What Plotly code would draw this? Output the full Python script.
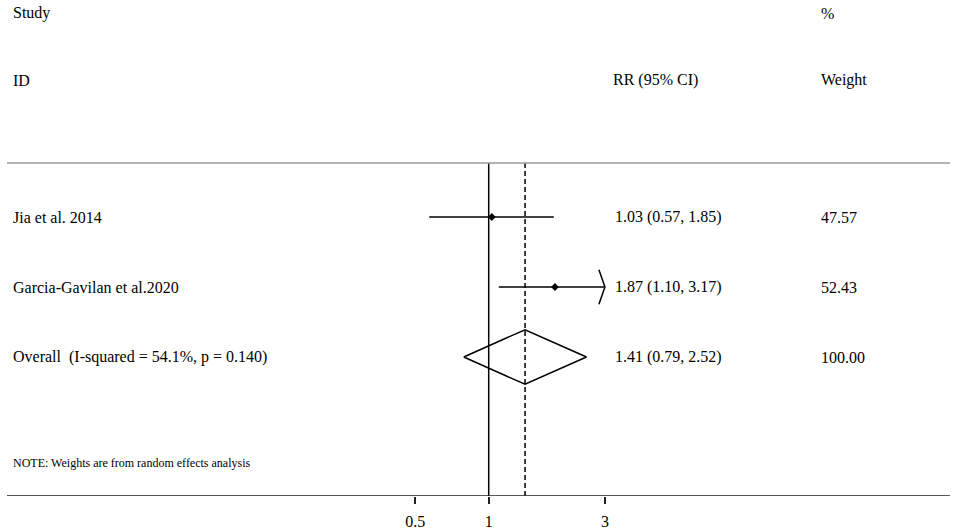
import plotly.graph_objects as go

# ---- data ----
studies = ["Jia et al. 2014", "Garcia-Gavilan et al.2020"]
rr = [1.03, 1.87]
ci_low = [0.57, 1.10]
ci_high = [1.85, 3.17]
weights = [47.57, 52.43]
overall_label = "Overall  (I-squared = 54.1%, p = 0.140)"
overall_rr = 1.41
overall_low = 0.79
overall_high = 2.52
overall_weight = 100.00
tick_vals = [0.5, 1, 3]
tick_text = ["0.5", "1", "3"]
axis_cap = 3  # CIs beyond this are drawn with an arrow

FONT = "Liberation Serif, Times New Roman, serif"
W, H = 957, 531
ML, MR = 0, 0
PLOT_BOTTOM = 496
ROW0_PX = 217
ROW_STEP = 70

def yrow(px):
    return (px - ROW0_PX) / ROW_STEP

def xpaper(px):
    return (px - ML) / (W - ML - MR)

px_per_log10 = 243.6
x_one_px = 488.7
xmin = (ML - x_one_px) / px_per_log10
xmax = (W - MR - x_one_px) / px_per_log10

fig = go.Figure()

rows = list(range(len(studies)))
overall_row = len(studies)

# CI lines and point estimates
for i in rows:
    hi = min(ci_high[i], axis_cap)
    fig.add_trace(go.Scatter(x=[ci_low[i], hi], y=[i, i], mode="lines",
                             line=dict(color="black", width=1.5),
                             hoverinfo="skip", showlegend=False))
    if ci_high[i] > axis_cap:
        f = 10 ** (-6 / px_per_log10)
        fig.add_trace(go.Scatter(x=[axis_cap * f, axis_cap, axis_cap * f],
                                 y=[i - 0.245, i, i + 0.245], mode="lines",
                                 line=dict(color="black", width=1.5),
                                 hoverinfo="skip", showlegend=False))
fig.add_trace(go.Scatter(x=rr, y=rows, mode="markers",
                         marker=dict(symbol="diamond", size=6, color="black"),
                         hoverinfo="skip", showlegend=False))

# overall diamond
dh = 0.39
fig.add_trace(go.Scatter(x=[overall_low, overall_rr, overall_high, overall_rr, overall_low],
                         y=[overall_row, overall_row - dh, overall_row, overall_row + dh, overall_row],
                         mode="lines", line=dict(color="black", width=1.5),
                         hoverinfo="skip", showlegend=False))

y_top_line = yrow(163)
y_bottom = yrow(PLOT_BOTTOM)

# null line and overall dashed line
fig.add_trace(go.Scatter(x=[1, 1], y=[y_top_line, y_bottom], mode="lines",
                         line=dict(color="black", width=1.5),
                         hoverinfo="skip", showlegend=False))
fig.add_trace(go.Scatter(x=[overall_rr, overall_rr], y=[y_top_line, y_bottom], mode="lines",
                         line=dict(color="black", width=1.5, dash="5px,3px"),
                         hoverinfo="skip", showlegend=False))

# top separator line
fig.add_shape(type="line", xref="paper", yref="y", x0=xpaper(7), x1=xpaper(950),
              y0=y_top_line, y1=y_top_line, line=dict(color="#9a9a9a", width=1.5))

ann = []
def text(x_px, y, s, size=16):
    ann.append(dict(x=xpaper(x_px), y=y, xref="paper", yref="y", text=s,
                    showarrow=False, xanchor="left", yanchor="middle",
                    font=dict(family=FONT, size=size, color="black")))

text(11, yrow(13), "Study")
text(11, yrow(80), "ID")
text(611, yrow(80), "RR (95% CI)")
text(819, yrow(13), "%")
text(819, yrow(80), "Weight")
for i in rows:
    text(11, i, studies[i])
    text(613, i, f"{rr[i]:.2f} ({ci_low[i]:.2f}, {ci_high[i]:.2f})")
    text(819, i, f"{weights[i]:.2f}")
text(11, overall_row, overall_label)
text(613, overall_row, f"{overall_rr:.2f} ({overall_low:.2f}, {overall_high:.2f})")
text(819, overall_row, f"{overall_weight:.2f}")
text(11, yrow(463), "NOTE: Weights are from random effects analysis", size=12)

fig.update_layout(
    width=W, height=H,
    margin=dict(l=ML, r=MR, t=0, b=H - PLOT_BOTTOM),
    paper_bgcolor="white", plot_bgcolor="white",
    annotations=ann,
    xaxis=dict(type="log", range=[xmin, xmax], tickvals=tick_vals, ticktext=tick_text,
               showgrid=False, zeroline=False, showline=False,
               ticks="outside", ticklen=7, tickwidth=1.5, tickcolor="#222",
               ticklabelstandoff=4,
               tickfont=dict(family=FONT, size=16, color="black"), fixedrange=True),
    yaxis=dict(range=[y_bottom, yrow(0)], visible=False, showgrid=False,
               zeroline=False, fixedrange=True),
)

# bottom axis line spanning the reference width
fig.add_shape(type="line", xref="paper", yref="y", x0=xpaper(7), x1=xpaper(950),
              y0=y_bottom, y1=y_bottom, line=dict(color="#222", width=1.5))

fig.write_html("out.html", config={"displayModeBar": False},
               post_script="document.body.style.margin='0';")
